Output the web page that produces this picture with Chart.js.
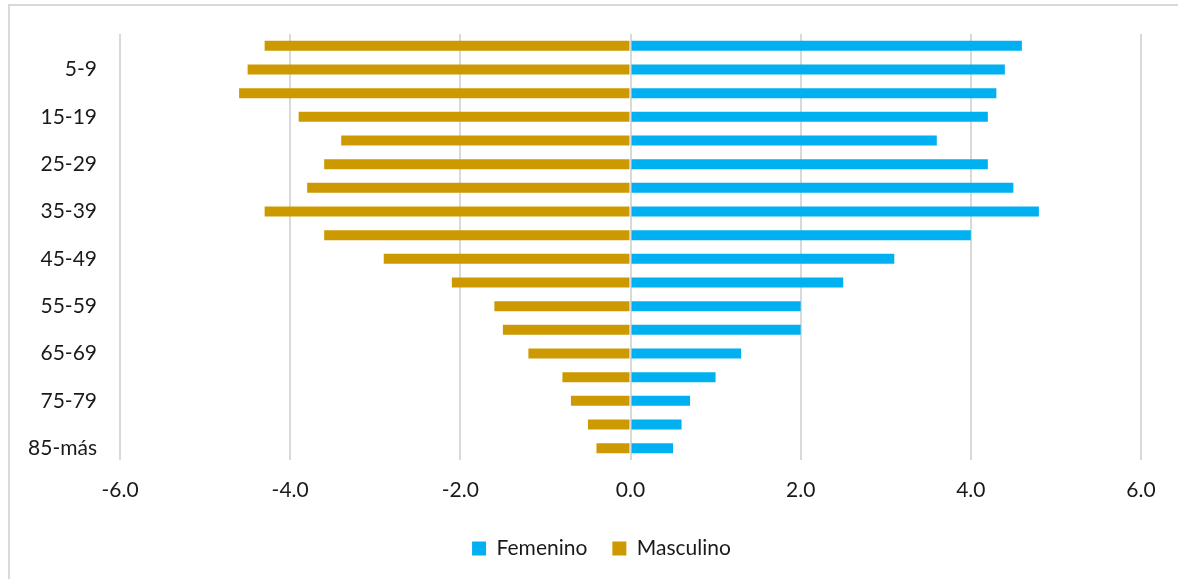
<!DOCTYPE html>
<html>
<head>
<meta charset="utf-8">
<script src="https://cdn.jsdelivr.net/npm/chart.js@4.4.1/dist/chart.umd.min.js"></script>
<style>
  html, body { margin: 0; padding: 0; background: #fff; overflow: hidden; }
  #wrap { position: relative; width: 1178px; height: 579px; }
  #frame { position: absolute; left: 8px; top: 4px; width: 1200px; height: 600px;
           border: 2px solid #d9d9d9; box-sizing: border-box; pointer-events: none; }
</style>
</head>
<body>
<div id="wrap">
  <canvas id="pyramid" width="1178" height="579"></canvas>
  <div id="frame"></div>
</div>
<script>
var ageGroups = ['0-4', '5-9', '10-14', '15-19', '20-24', '25-29', '30-34', '35-39', '40-44',
  '45-49', '50-54', '55-59', '60-64', '65-69', '70-74', '75-79', '80-84', '85-más'];
var femenino = [4.6, 4.4, 4.3, 4.2, 3.6, 4.2, 4.5, 4.8, 4.0, 3.1, 2.5, 2.0, 2.0, 1.3, 1.0, 0.7, 0.6, 0.5];
var masculino = [-4.3, -4.5, -4.6, -3.9, -3.4, -3.6, -3.8, -4.3, -3.6, -2.9, -2.1, -1.6, -1.5, -1.2, -0.8, -0.7, -0.5, -0.4];
var xTicks = [-6, -4, -2, 0, 2, 4, 6];

(function() {
  var font = "Lato, 'Open Sans', sans-serif";
  var textColor = '#1a1a1a';
  var gridColor = '#d9d9d9';
  Chart.defaults.font.family = font;
  Chart.defaults.font.size = 21;
  Chart.defaults.color = textColor;

  // Excel centres the legend on the whole frame, not on the plot width
  var legendShift = {
    id: 'legendShift',
    afterLayout: function(chart) {
      if (!chart.legend) return;
      chart.legend.left += 31;
      chart.legend.right += 31;
    }
  };

  new Chart(document.getElementById('pyramid'), {
    type: 'bar',
    data: {
      labels: ageGroups,
      datasets: [
        { label: 'Femenino', data: femenino, backgroundColor: '#00b0f0',
          categoryPercentage: 1, barPercentage: 0.42 },
        { label: 'Masculino', data: masculino, backgroundColor: '#cc9900',
          categoryPercentage: 1, barPercentage: 0.42 }
      ]
    },
    plugins: [legendShift],
    options: {
      indexAxis: 'y',
      responsive: false,
      animation: false,
      layout: { padding: { top: 34, right: 37, left: 0, bottom: 10 } },
      plugins: {
        legend: {
          position: 'bottom',
          labels: { boxWidth: 14, boxHeight: 14, padding: 25, color: textColor,
            font: { size: 21 } }
        },
        tooltip: { enabled: false }
      },
      scales: {
        x: {
          stacked: true,
          min: -6, max: 6,
          afterBuildTicks: function(scale) {
            scale.ticks = xTicks.map(function(v) { return { value: v }; });
          },
          afterFit: function(scale) { scale.height = 53; },
          grid: { color: gridColor, lineWidth: 2, drawTicks: false },
          border: { display: false },
          ticks: {
            padding: 18,
            callback: function(v) { return Number(v).toFixed(1); }
          }
        },
        y: {
          stacked: true,
          afterFit: function(scale) { scale.width = 120; },
          grid: { display: false },
          border: { display: false },
          ticks: {
            autoSkip: false,
            padding: 15,
            callback: function(v, i) { return i % 2 === 1 ? ageGroups[i] : ''; }
          }
        }
      }
    }
  });
})();
</script>
</body>
</html>
